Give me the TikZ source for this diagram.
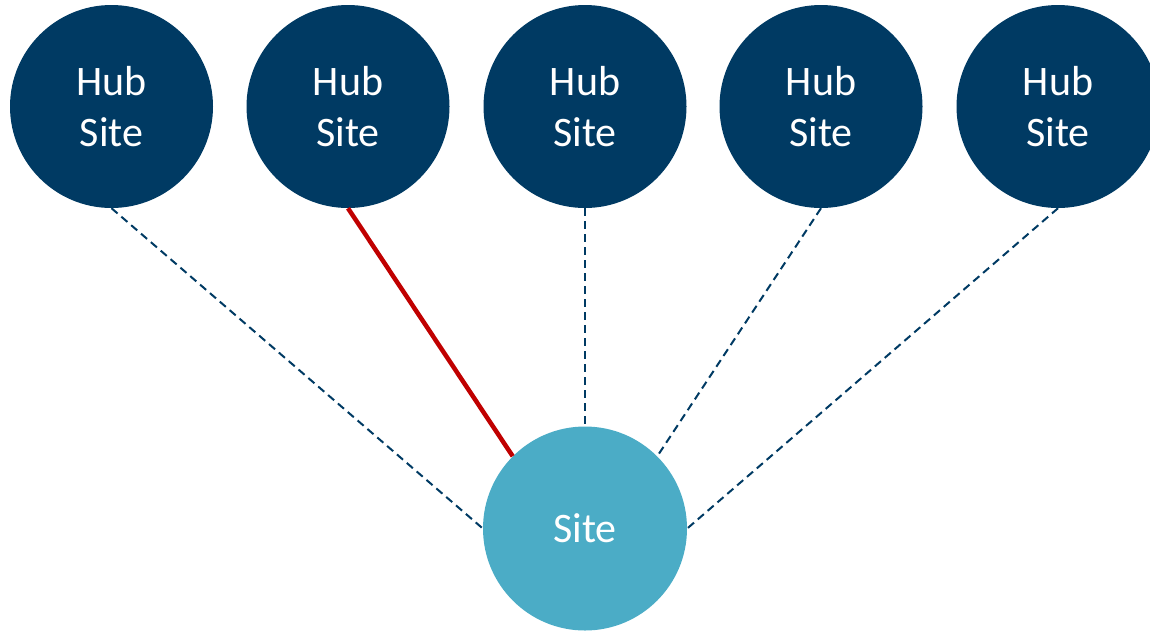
\documentclass[tikz,border=0pt]{standalone}
\usepackage{fontspec}
\setmainfont{Carlito}
\definecolor{navy}{HTML}{003A63}
\definecolor{teal}{HTML}{4BACC6}
\definecolor{redline}{HTML}{C00000}
\begin{document}
\begin{tikzpicture}[x=1pt,y=-1pt,
  hub/.style={circle,fill=navy,minimum size=203pt,inner sep=0pt,text=white,align=center,font=\fontsize{42}{51}\selectfont},
  sitenode/.style={circle,fill=teal,minimum size=204pt,inner sep=0pt,text=white,font=\fontsize{42}{51}\selectfont},
  dash link/.style={draw=navy,line width=2pt,dash pattern=on 8pt off 5pt},
  red link/.style={draw=redline,line width=4.5pt}]
\useasboundingbox (0,0) rectangle (1150,630);
\node[hub] (h1) at (111.5,106.5) {Hub\\Site};
\node[hub] (h2) at (348,106.5) {Hub\\Site};
\node[hub] (h3) at (585,106.5) {Hub\\Site};
\node[hub] (h4) at (821,106.5) {Hub\\Site};
\node[hub] (h5) at (1058,106.5) {Hub\\Site};
\node[sitenode] (s) at (585,528.5) {Site};
\begin{scope}[on background layer/.style={}]
\end{scope}
\draw[dash link] (h1.south) -- (s.west);
\draw[red link] (h2.south) -- (s.135);
\draw[dash link] (h3.south) -- (s.north);
\draw[dash link] (h4.south) -- (s.45);
\draw[dash link] (h5.south) -- (s.east);
\end{tikzpicture}
\end{document}
